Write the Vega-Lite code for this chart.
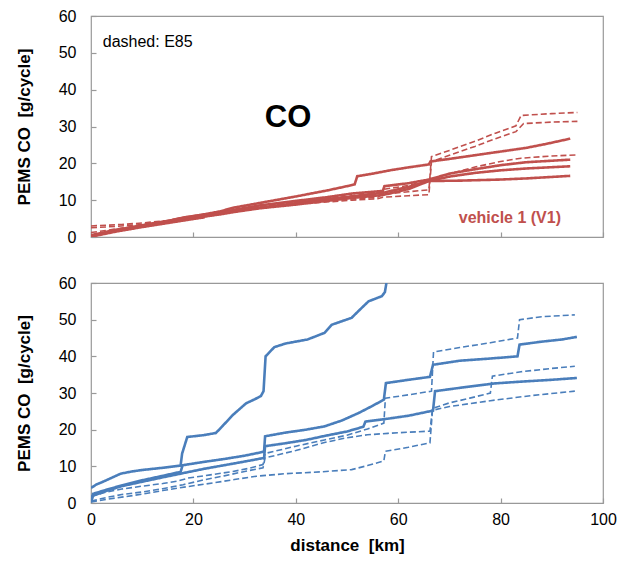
{
  "$schema": "https://vega.github.io/schema/vega-lite/v6.json",
  "background": "white",
  "padding": {"left": 14, "top": 7, "right": 5, "bottom": 5},
  "spacing": 28,
  "config": {
    "font": "Liberation Sans",
    "view": {"stroke": "#999999", "strokeWidth": 1.2},
    "axis": {
      "domain": false,
      "grid": false,
      "tickColor": "#999999",
      "tickSize": -5,
      "tickWidth": 1.2,
      "labelOverlap": false,
      "labelFlush": false,
      "labelFontSize": 16,
      "labelColor": "#000000",
      "titleColor": "#000000",
      "titleFontWeight": "bold"
    }
  },
  "datasets": {
    "lines": [
      {"panel": "top", "run": "t1", "fuel": "gasoline", "km": 0, "co": 0.3},
      {"panel": "top", "run": "t1", "fuel": "gasoline", "km": 5, "co": 1.8},
      {"panel": "top", "run": "t1", "fuel": "gasoline", "km": 10, "co": 3.2},
      {"panel": "top", "run": "t1", "fuel": "gasoline", "km": 15, "co": 4.4},
      {"panel": "top", "run": "t1", "fuel": "gasoline", "km": 20, "co": 5.6},
      {"panel": "top", "run": "t1", "fuel": "gasoline", "km": 25, "co": 6.9},
      {"panel": "top", "run": "t1", "fuel": "gasoline", "km": 28, "co": 8},
      {"panel": "top", "run": "t1", "fuel": "gasoline", "km": 33.6, "co": 9.4},
      {"panel": "top", "run": "t1", "fuel": "gasoline", "km": 40, "co": 11},
      {"panel": "top", "run": "t1", "fuel": "gasoline", "km": 46, "co": 12.6},
      {"panel": "top", "run": "t1", "fuel": "gasoline", "km": 50, "co": 13.8},
      {"panel": "top", "run": "t1", "fuel": "gasoline", "km": 51.5, "co": 14.3},
      {"panel": "top", "run": "t1", "fuel": "gasoline", "km": 52, "co": 16.5},
      {"panel": "top", "run": "t1", "fuel": "gasoline", "km": 55, "co": 17.2},
      {"panel": "top", "run": "t1", "fuel": "gasoline", "km": 58.8, "co": 18.2},
      {"panel": "top", "run": "t1", "fuel": "gasoline", "km": 62, "co": 18.9},
      {"panel": "top", "run": "t1", "fuel": "gasoline", "km": 66, "co": 19.7},
      {"panel": "top", "run": "t1", "fuel": "gasoline", "km": 66.3, "co": 20.5},
      {"panel": "top", "run": "t1", "fuel": "gasoline", "km": 70, "co": 21.2},
      {"panel": "top", "run": "t1", "fuel": "gasoline", "km": 75, "co": 22.2},
      {"panel": "top", "run": "t1", "fuel": "gasoline", "km": 80, "co": 23.2},
      {"panel": "top", "run": "t1", "fuel": "gasoline", "km": 85, "co": 24.2},
      {"panel": "top", "run": "t1", "fuel": "gasoline", "km": 89, "co": 25.3},
      {"panel": "top", "run": "t1", "fuel": "gasoline", "km": 93.6, "co": 26.7},

      {"panel": "top", "run": "t2", "fuel": "gasoline", "km": 0, "co": 0.5},
      {"panel": "top", "run": "t2", "fuel": "gasoline", "km": 5, "co": 2},
      {"panel": "top", "run": "t2", "fuel": "gasoline", "km": 10, "co": 3.1},
      {"panel": "top", "run": "t2", "fuel": "gasoline", "km": 15, "co": 4.3},
      {"panel": "top", "run": "t2", "fuel": "gasoline", "km": 18, "co": 5.3},
      {"panel": "top", "run": "t2", "fuel": "gasoline", "km": 20, "co": 5.7},
      {"panel": "top", "run": "t2", "fuel": "gasoline", "km": 25, "co": 6.6},
      {"panel": "top", "run": "t2", "fuel": "gasoline", "km": 28, "co": 7.4},
      {"panel": "top", "run": "t2", "fuel": "gasoline", "km": 33, "co": 8.6},
      {"panel": "top", "run": "t2", "fuel": "gasoline", "km": 40, "co": 9.8},
      {"panel": "top", "run": "t2", "fuel": "gasoline", "km": 46, "co": 10.8},
      {"panel": "top", "run": "t2", "fuel": "gasoline", "km": 51, "co": 11.8},
      {"panel": "top", "run": "t2", "fuel": "gasoline", "km": 57, "co": 12.5},
      {"panel": "top", "run": "t2", "fuel": "gasoline", "km": 57.3, "co": 13.8},
      {"panel": "top", "run": "t2", "fuel": "gasoline", "km": 62, "co": 14.6},
      {"panel": "top", "run": "t2", "fuel": "gasoline", "km": 66, "co": 15.6},
      {"panel": "top", "run": "t2", "fuel": "gasoline", "km": 70, "co": 17.2},
      {"panel": "top", "run": "t2", "fuel": "gasoline", "km": 75, "co": 18.4},
      {"panel": "top", "run": "t2", "fuel": "gasoline", "km": 80, "co": 19.5},
      {"panel": "top", "run": "t2", "fuel": "gasoline", "km": 85, "co": 20.3},
      {"panel": "top", "run": "t2", "fuel": "gasoline", "km": 93.6, "co": 21},

      {"panel": "top", "run": "t3", "fuel": "gasoline", "km": 0, "co": 0.2},
      {"panel": "top", "run": "t3", "fuel": "gasoline", "km": 5, "co": 1.7},
      {"panel": "top", "run": "t3", "fuel": "gasoline", "km": 10, "co": 2.9},
      {"panel": "top", "run": "t3", "fuel": "gasoline", "km": 15, "co": 4},
      {"panel": "top", "run": "t3", "fuel": "gasoline", "km": 20, "co": 5.1},
      {"panel": "top", "run": "t3", "fuel": "gasoline", "km": 25, "co": 6.1},
      {"panel": "top", "run": "t3", "fuel": "gasoline", "km": 28, "co": 6.8},
      {"panel": "top", "run": "t3", "fuel": "gasoline", "km": 33, "co": 7.8},
      {"panel": "top", "run": "t3", "fuel": "gasoline", "km": 40, "co": 8.8},
      {"panel": "top", "run": "t3", "fuel": "gasoline", "km": 46, "co": 9.8},
      {"panel": "top", "run": "t3", "fuel": "gasoline", "km": 51, "co": 10.6},
      {"panel": "top", "run": "t3", "fuel": "gasoline", "km": 57, "co": 11.4},
      {"panel": "top", "run": "t3", "fuel": "gasoline", "km": 62, "co": 13},
      {"panel": "top", "run": "t3", "fuel": "gasoline", "km": 66, "co": 15.2},
      {"panel": "top", "run": "t3", "fuel": "gasoline", "km": 70, "co": 16.4},
      {"panel": "top", "run": "t3", "fuel": "gasoline", "km": 75, "co": 17.4},
      {"panel": "top", "run": "t3", "fuel": "gasoline", "km": 80, "co": 18.1},
      {"panel": "top", "run": "t3", "fuel": "gasoline", "km": 85, "co": 18.6},
      {"panel": "top", "run": "t3", "fuel": "gasoline", "km": 93.6, "co": 19.2},

      {"panel": "top", "run": "t4", "fuel": "gasoline", "km": 0, "co": 0.1},
      {"panel": "top", "run": "t4", "fuel": "gasoline", "km": 5, "co": 1.5},
      {"panel": "top", "run": "t4", "fuel": "gasoline", "km": 10, "co": 2.7},
      {"panel": "top", "run": "t4", "fuel": "gasoline", "km": 15, "co": 3.8},
      {"panel": "top", "run": "t4", "fuel": "gasoline", "km": 20, "co": 4.9},
      {"panel": "top", "run": "t4", "fuel": "gasoline", "km": 22, "co": 5.3},
      {"panel": "top", "run": "t4", "fuel": "gasoline", "km": 22.3, "co": 6},
      {"panel": "top", "run": "t4", "fuel": "gasoline", "km": 28, "co": 7},
      {"panel": "top", "run": "t4", "fuel": "gasoline", "km": 33, "co": 8},
      {"panel": "top", "run": "t4", "fuel": "gasoline", "km": 40, "co": 9.2},
      {"panel": "top", "run": "t4", "fuel": "gasoline", "km": 46, "co": 10.2},
      {"panel": "top", "run": "t4", "fuel": "gasoline", "km": 51, "co": 11},
      {"panel": "top", "run": "t4", "fuel": "gasoline", "km": 57, "co": 12},
      {"panel": "top", "run": "t4", "fuel": "gasoline", "km": 62, "co": 13.6},
      {"panel": "top", "run": "t4", "fuel": "gasoline", "km": 66, "co": 15.2},
      {"panel": "top", "run": "t4", "fuel": "gasoline", "km": 72, "co": 15.3},
      {"panel": "top", "run": "t4", "fuel": "gasoline", "km": 80, "co": 15.6},
      {"panel": "top", "run": "t4", "fuel": "gasoline", "km": 85, "co": 15.9},
      {"panel": "top", "run": "t4", "fuel": "gasoline", "km": 93.6, "co": 16.6},

      {"panel": "top", "run": "t5", "fuel": "E85", "km": 0, "co": 3},
      {"panel": "top", "run": "t5", "fuel": "E85", "km": 3, "co": 3.2},
      {"panel": "top", "run": "t5", "fuel": "E85", "km": 6, "co": 3.4},
      {"panel": "top", "run": "t5", "fuel": "E85", "km": 10, "co": 3.8},
      {"panel": "top", "run": "t5", "fuel": "E85", "km": 15, "co": 4.5},
      {"panel": "top", "run": "t5", "fuel": "E85", "km": 20, "co": 5.5},
      {"panel": "top", "run": "t5", "fuel": "E85", "km": 25, "co": 6.6},
      {"panel": "top", "run": "t5", "fuel": "E85", "km": 30, "co": 7.8},
      {"panel": "top", "run": "t5", "fuel": "E85", "km": 35, "co": 8.6},
      {"panel": "top", "run": "t5", "fuel": "E85", "km": 40, "co": 9.2},
      {"panel": "top", "run": "t5", "fuel": "E85", "km": 46, "co": 9.8},
      {"panel": "top", "run": "t5", "fuel": "E85", "km": 51, "co": 10.3},
      {"panel": "top", "run": "t5", "fuel": "E85", "km": 56, "co": 10.8},
      {"panel": "top", "run": "t5", "fuel": "E85", "km": 57, "co": 11.6},
      {"panel": "top", "run": "t5", "fuel": "E85", "km": 62, "co": 12.3},
      {"panel": "top", "run": "t5", "fuel": "E85", "km": 66, "co": 12.8},
      {"panel": "top", "run": "t5", "fuel": "E85", "km": 66.5, "co": 21.8},
      {"panel": "top", "run": "t5", "fuel": "E85", "km": 70, "co": 23.5},
      {"panel": "top", "run": "t5", "fuel": "E85", "km": 75, "co": 26},
      {"panel": "top", "run": "t5", "fuel": "E85", "km": 79, "co": 28.2},
      {"panel": "top", "run": "t5", "fuel": "E85", "km": 83, "co": 30.2},
      {"panel": "top", "run": "t5", "fuel": "E85", "km": 84, "co": 33},
      {"panel": "top", "run": "t5", "fuel": "E85", "km": 90, "co": 33.5},
      {"panel": "top", "run": "t5", "fuel": "E85", "km": 95, "co": 33.8},

      {"panel": "top", "run": "t6", "fuel": "E85", "km": 0, "co": 2.5},
      {"panel": "top", "run": "t6", "fuel": "E85", "km": 5, "co": 2.9},
      {"panel": "top", "run": "t6", "fuel": "E85", "km": 10, "co": 3.4},
      {"panel": "top", "run": "t6", "fuel": "E85", "km": 15, "co": 4.3},
      {"panel": "top", "run": "t6", "fuel": "E85", "km": 20, "co": 5.2},
      {"panel": "top", "run": "t6", "fuel": "E85", "km": 25, "co": 6.3},
      {"panel": "top", "run": "t6", "fuel": "E85", "km": 30, "co": 7.4},
      {"panel": "top", "run": "t6", "fuel": "E85", "km": 35, "co": 8.3},
      {"panel": "top", "run": "t6", "fuel": "E85", "km": 40, "co": 8.9},
      {"panel": "top", "run": "t6", "fuel": "E85", "km": 46, "co": 9.5},
      {"panel": "top", "run": "t6", "fuel": "E85", "km": 51, "co": 10},
      {"panel": "top", "run": "t6", "fuel": "E85", "km": 56, "co": 10.4},
      {"panel": "top", "run": "t6", "fuel": "E85", "km": 57, "co": 10.8},
      {"panel": "top", "run": "t6", "fuel": "E85", "km": 62, "co": 11.2},
      {"panel": "top", "run": "t6", "fuel": "E85", "km": 66, "co": 11.5},
      {"panel": "top", "run": "t6", "fuel": "E85", "km": 66.5, "co": 20.5},
      {"panel": "top", "run": "t6", "fuel": "E85", "km": 70, "co": 22.2},
      {"panel": "top", "run": "t6", "fuel": "E85", "km": 75, "co": 24.6},
      {"panel": "top", "run": "t6", "fuel": "E85", "km": 79, "co": 26.7},
      {"panel": "top", "run": "t6", "fuel": "E85", "km": 83, "co": 28.6},
      {"panel": "top", "run": "t6", "fuel": "E85", "km": 84.5, "co": 30.8},
      {"panel": "top", "run": "t6", "fuel": "E85", "km": 90, "co": 31.2},
      {"panel": "top", "run": "t6", "fuel": "E85", "km": 95, "co": 31.4},

      {"panel": "top", "run": "t7", "fuel": "E85", "km": 0, "co": 1.2},
      {"panel": "top", "run": "t7", "fuel": "E85", "km": 5, "co": 2.2},
      {"panel": "top", "run": "t7", "fuel": "E85", "km": 10, "co": 3.2},
      {"panel": "top", "run": "t7", "fuel": "E85", "km": 15, "co": 4.3},
      {"panel": "top", "run": "t7", "fuel": "E85", "km": 20, "co": 5.4},
      {"panel": "top", "run": "t7", "fuel": "E85", "km": 25, "co": 6.5},
      {"panel": "top", "run": "t7", "fuel": "E85", "km": 30, "co": 7.6},
      {"panel": "top", "run": "t7", "fuel": "E85", "km": 35, "co": 8.6},
      {"panel": "top", "run": "t7", "fuel": "E85", "km": 40, "co": 9.4},
      {"panel": "top", "run": "t7", "fuel": "E85", "km": 46, "co": 10.4},
      {"panel": "top", "run": "t7", "fuel": "E85", "km": 51, "co": 11.2},
      {"panel": "top", "run": "t7", "fuel": "E85", "km": 56, "co": 12},
      {"panel": "top", "run": "t7", "fuel": "E85", "km": 57, "co": 12.9},
      {"panel": "top", "run": "t7", "fuel": "E85", "km": 62, "co": 14},
      {"panel": "top", "run": "t7", "fuel": "E85", "km": 66, "co": 15.4},
      {"panel": "top", "run": "t7", "fuel": "E85", "km": 70, "co": 17.2},
      {"panel": "top", "run": "t7", "fuel": "E85", "km": 75, "co": 19},
      {"panel": "top", "run": "t7", "fuel": "E85", "km": 80, "co": 20.5},
      {"panel": "top", "run": "t7", "fuel": "E85", "km": 84, "co": 21.4},
      {"panel": "top", "run": "t7", "fuel": "E85", "km": 90, "co": 22},
      {"panel": "top", "run": "t7", "fuel": "E85", "km": 95, "co": 22.3},

      {"panel": "bottom", "run": "b1", "fuel": "gasoline", "km": 0, "co": 4.1},
      {"panel": "bottom", "run": "b1", "fuel": "gasoline", "km": 1, "co": 5},
      {"panel": "bottom", "run": "b1", "fuel": "gasoline", "km": 2.5, "co": 5.9},
      {"panel": "bottom", "run": "b1", "fuel": "gasoline", "km": 5.8, "co": 8},
      {"panel": "bottom", "run": "b1", "fuel": "gasoline", "km": 8, "co": 8.6},
      {"panel": "bottom", "run": "b1", "fuel": "gasoline", "km": 10, "co": 9},
      {"panel": "bottom", "run": "b1", "fuel": "gasoline", "km": 14, "co": 9.6},
      {"panel": "bottom", "run": "b1", "fuel": "gasoline", "km": 17.5, "co": 10.2},
      {"panel": "bottom", "run": "b1", "fuel": "gasoline", "km": 17.8, "co": 13.5},
      {"panel": "bottom", "run": "b1", "fuel": "gasoline", "km": 18.8, "co": 18},
      {"panel": "bottom", "run": "b1", "fuel": "gasoline", "km": 22, "co": 18.5},
      {"panel": "bottom", "run": "b1", "fuel": "gasoline", "km": 24.4, "co": 19.1},
      {"panel": "bottom", "run": "b1", "fuel": "gasoline", "km": 25.7, "co": 21},
      {"panel": "bottom", "run": "b1", "fuel": "gasoline", "km": 27.7, "co": 24},
      {"panel": "bottom", "run": "b1", "fuel": "gasoline", "km": 30.3, "co": 27.2},
      {"panel": "bottom", "run": "b1", "fuel": "gasoline", "km": 32, "co": 28.3},
      {"panel": "bottom", "run": "b1", "fuel": "gasoline", "km": 33.2, "co": 29.2},
      {"panel": "bottom", "run": "b1", "fuel": "gasoline", "km": 33.7, "co": 30.5},
      {"panel": "bottom", "run": "b1", "fuel": "gasoline", "km": 34.1, "co": 40},
      {"panel": "bottom", "run": "b1", "fuel": "gasoline", "km": 35.8, "co": 42.5},
      {"panel": "bottom", "run": "b1", "fuel": "gasoline", "km": 38, "co": 43.5},
      {"panel": "bottom", "run": "b1", "fuel": "gasoline", "km": 42.3, "co": 44.6},
      {"panel": "bottom", "run": "b1", "fuel": "gasoline", "km": 45.6, "co": 46.4},
      {"panel": "bottom", "run": "b1", "fuel": "gasoline", "km": 47, "co": 48.6},
      {"panel": "bottom", "run": "b1", "fuel": "gasoline", "km": 50.9, "co": 50.5},
      {"panel": "bottom", "run": "b1", "fuel": "gasoline", "km": 52.2, "co": 52.3},
      {"panel": "bottom", "run": "b1", "fuel": "gasoline", "km": 54.2, "co": 55},
      {"panel": "bottom", "run": "b1", "fuel": "gasoline", "km": 56.8, "co": 56.4},
      {"panel": "bottom", "run": "b1", "fuel": "gasoline", "km": 57.4, "co": 57.5},
      {"panel": "bottom", "run": "b1", "fuel": "gasoline", "km": 57.7, "co": 60},

      {"panel": "bottom", "run": "b2", "fuel": "gasoline", "km": 0, "co": 0.3},
      {"panel": "bottom", "run": "b2", "fuel": "gasoline", "km": 0.4, "co": 2.5},
      {"panel": "bottom", "run": "b2", "fuel": "gasoline", "km": 3, "co": 3.6},
      {"panel": "bottom", "run": "b2", "fuel": "gasoline", "km": 6, "co": 4.8},
      {"panel": "bottom", "run": "b2", "fuel": "gasoline", "km": 10, "co": 6.2},
      {"panel": "bottom", "run": "b2", "fuel": "gasoline", "km": 14, "co": 7.4},
      {"panel": "bottom", "run": "b2", "fuel": "gasoline", "km": 17.5, "co": 8.5},
      {"panel": "bottom", "run": "b2", "fuel": "gasoline", "km": 17.9, "co": 10.3},
      {"panel": "bottom", "run": "b2", "fuel": "gasoline", "km": 22, "co": 11.2},
      {"panel": "bottom", "run": "b2", "fuel": "gasoline", "km": 26, "co": 12},
      {"panel": "bottom", "run": "b2", "fuel": "gasoline", "km": 30, "co": 12.9},
      {"panel": "bottom", "run": "b2", "fuel": "gasoline", "km": 33.8, "co": 14},
      {"panel": "bottom", "run": "b2", "fuel": "gasoline", "km": 34, "co": 18.2},
      {"panel": "bottom", "run": "b2", "fuel": "gasoline", "km": 38, "co": 19.2},
      {"panel": "bottom", "run": "b2", "fuel": "gasoline", "km": 42, "co": 20},
      {"panel": "bottom", "run": "b2", "fuel": "gasoline", "km": 45.6, "co": 20.9},
      {"panel": "bottom", "run": "b2", "fuel": "gasoline", "km": 49, "co": 22.5},
      {"panel": "bottom", "run": "b2", "fuel": "gasoline", "km": 52.2, "co": 24.5},
      {"panel": "bottom", "run": "b2", "fuel": "gasoline", "km": 55, "co": 26.5},
      {"panel": "bottom", "run": "b2", "fuel": "gasoline", "km": 57.2, "co": 28.2},
      {"panel": "bottom", "run": "b2", "fuel": "gasoline", "km": 57.6, "co": 32.7},
      {"panel": "bottom", "run": "b2", "fuel": "gasoline", "km": 62, "co": 33.6},
      {"panel": "bottom", "run": "b2", "fuel": "gasoline", "km": 66.2, "co": 34.4},
      {"panel": "bottom", "run": "b2", "fuel": "gasoline", "km": 66.8, "co": 37.7},
      {"panel": "bottom", "run": "b2", "fuel": "gasoline", "km": 72, "co": 38.8},
      {"panel": "bottom", "run": "b2", "fuel": "gasoline", "km": 78, "co": 39.4},
      {"panel": "bottom", "run": "b2", "fuel": "gasoline", "km": 83.3, "co": 40},
      {"panel": "bottom", "run": "b2", "fuel": "gasoline", "km": 83.7, "co": 43.2},
      {"panel": "bottom", "run": "b2", "fuel": "gasoline", "km": 88, "co": 44},
      {"panel": "bottom", "run": "b2", "fuel": "gasoline", "km": 92, "co": 44.6},
      {"panel": "bottom", "run": "b2", "fuel": "gasoline", "km": 94.9, "co": 45.3},

      {"panel": "bottom", "run": "b3", "fuel": "gasoline", "km": 0, "co": 0.3},
      {"panel": "bottom", "run": "b3", "fuel": "gasoline", "km": 0.4, "co": 2},
      {"panel": "bottom", "run": "b3", "fuel": "gasoline", "km": 3, "co": 3.3},
      {"panel": "bottom", "run": "b3", "fuel": "gasoline", "km": 6, "co": 4.6},
      {"panel": "bottom", "run": "b3", "fuel": "gasoline", "km": 10, "co": 5.8},
      {"panel": "bottom", "run": "b3", "fuel": "gasoline", "km": 14, "co": 7},
      {"panel": "bottom", "run": "b3", "fuel": "gasoline", "km": 17.5, "co": 8},
      {"panel": "bottom", "run": "b3", "fuel": "gasoline", "km": 22, "co": 9.3},
      {"panel": "bottom", "run": "b3", "fuel": "gasoline", "km": 26, "co": 10.3},
      {"panel": "bottom", "run": "b3", "fuel": "gasoline", "km": 30, "co": 11.3},
      {"panel": "bottom", "run": "b3", "fuel": "gasoline", "km": 33.8, "co": 12.3},
      {"panel": "bottom", "run": "b3", "fuel": "gasoline", "km": 34, "co": 15.5},
      {"panel": "bottom", "run": "b3", "fuel": "gasoline", "km": 38, "co": 16.3},
      {"panel": "bottom", "run": "b3", "fuel": "gasoline", "km": 42, "co": 17.2},
      {"panel": "bottom", "run": "b3", "fuel": "gasoline", "km": 46, "co": 18.4},
      {"panel": "bottom", "run": "b3", "fuel": "gasoline", "km": 50, "co": 19.5},
      {"panel": "bottom", "run": "b3", "fuel": "gasoline", "km": 53.2, "co": 20.8},
      {"panel": "bottom", "run": "b3", "fuel": "gasoline", "km": 53.6, "co": 22.2},
      {"panel": "bottom", "run": "b3", "fuel": "gasoline", "km": 58, "co": 23},
      {"panel": "bottom", "run": "b3", "fuel": "gasoline", "km": 62, "co": 23.8},
      {"panel": "bottom", "run": "b3", "fuel": "gasoline", "km": 66.8, "co": 25.2},
      {"panel": "bottom", "run": "b3", "fuel": "gasoline", "km": 67.2, "co": 30.5},
      {"panel": "bottom", "run": "b3", "fuel": "gasoline", "km": 72, "co": 31.4},
      {"panel": "bottom", "run": "b3", "fuel": "gasoline", "km": 78.7, "co": 32.6},
      {"panel": "bottom", "run": "b3", "fuel": "gasoline", "km": 84, "co": 33.1},
      {"panel": "bottom", "run": "b3", "fuel": "gasoline", "km": 90, "co": 33.6},
      {"panel": "bottom", "run": "b3", "fuel": "gasoline", "km": 94.9, "co": 34.1},

      {"panel": "bottom", "run": "b4", "fuel": "E85", "km": 0, "co": 1.8},
      {"panel": "bottom", "run": "b4", "fuel": "E85", "km": 3, "co": 3},
      {"panel": "bottom", "run": "b4", "fuel": "E85", "km": 6, "co": 3.8},
      {"panel": "bottom", "run": "b4", "fuel": "E85", "km": 10, "co": 4.6},
      {"panel": "bottom", "run": "b4", "fuel": "E85", "km": 14, "co": 5.3},
      {"panel": "bottom", "run": "b4", "fuel": "E85", "km": 17, "co": 6},
      {"panel": "bottom", "run": "b4", "fuel": "E85", "km": 19, "co": 6.8},
      {"panel": "bottom", "run": "b4", "fuel": "E85", "km": 23, "co": 7.6},
      {"panel": "bottom", "run": "b4", "fuel": "E85", "km": 27.7, "co": 8.6},
      {"panel": "bottom", "run": "b4", "fuel": "E85", "km": 31, "co": 9.5},
      {"panel": "bottom", "run": "b4", "fuel": "E85", "km": 33.6, "co": 10.5},
      {"panel": "bottom", "run": "b4", "fuel": "E85", "km": 34, "co": 13.5},
      {"panel": "bottom", "run": "b4", "fuel": "E85", "km": 40, "co": 15.5},
      {"panel": "bottom", "run": "b4", "fuel": "E85", "km": 45.6, "co": 17.2},
      {"panel": "bottom", "run": "b4", "fuel": "E85", "km": 50, "co": 18.5},
      {"panel": "bottom", "run": "b4", "fuel": "E85", "km": 54, "co": 20.2},
      {"panel": "bottom", "run": "b4", "fuel": "E85", "km": 57.2, "co": 21.8},
      {"panel": "bottom", "run": "b4", "fuel": "E85", "km": 57.5, "co": 28.6},
      {"panel": "bottom", "run": "b4", "fuel": "E85", "km": 62, "co": 29.5},
      {"panel": "bottom", "run": "b4", "fuel": "E85", "km": 66.5, "co": 30.5},
      {"panel": "bottom", "run": "b4", "fuel": "E85", "km": 66.9, "co": 41.2},
      {"panel": "bottom", "run": "b4", "fuel": "E85", "km": 72, "co": 42.4},
      {"panel": "bottom", "run": "b4", "fuel": "E85", "km": 78, "co": 43.7},
      {"panel": "bottom", "run": "b4", "fuel": "E85", "km": 83.3, "co": 45},
      {"panel": "bottom", "run": "b4", "fuel": "E85", "km": 83.7, "co": 50},
      {"panel": "bottom", "run": "b4", "fuel": "E85", "km": 88, "co": 50.8},
      {"panel": "bottom", "run": "b4", "fuel": "E85", "km": 94.5, "co": 51.3},

      {"panel": "bottom", "run": "b5", "fuel": "E85", "km": 0, "co": 0.5},
      {"panel": "bottom", "run": "b5", "fuel": "E85", "km": 3, "co": 1.5},
      {"panel": "bottom", "run": "b5", "fuel": "E85", "km": 6, "co": 2.3},
      {"panel": "bottom", "run": "b5", "fuel": "E85", "km": 10, "co": 3},
      {"panel": "bottom", "run": "b5", "fuel": "E85", "km": 14, "co": 3.9},
      {"panel": "bottom", "run": "b5", "fuel": "E85", "km": 18, "co": 5},
      {"panel": "bottom", "run": "b5", "fuel": "E85", "km": 22, "co": 6.3},
      {"panel": "bottom", "run": "b5", "fuel": "E85", "km": 26, "co": 7.4},
      {"panel": "bottom", "run": "b5", "fuel": "E85", "km": 30, "co": 8.6},
      {"panel": "bottom", "run": "b5", "fuel": "E85", "km": 33.6, "co": 9.6},
      {"panel": "bottom", "run": "b5", "fuel": "E85", "km": 34, "co": 12.3},
      {"panel": "bottom", "run": "b5", "fuel": "E85", "km": 40, "co": 14.3},
      {"panel": "bottom", "run": "b5", "fuel": "E85", "km": 45.6, "co": 16.5},
      {"panel": "bottom", "run": "b5", "fuel": "E85", "km": 50, "co": 17.8},
      {"panel": "bottom", "run": "b5", "fuel": "E85", "km": 54, "co": 18.6},
      {"panel": "bottom", "run": "b5", "fuel": "E85", "km": 58, "co": 19},
      {"panel": "bottom", "run": "b5", "fuel": "E85", "km": 62, "co": 19.3},
      {"panel": "bottom", "run": "b5", "fuel": "E85", "km": 66.2, "co": 19.6},
      {"panel": "bottom", "run": "b5", "fuel": "E85", "km": 66.7, "co": 25.8},
      {"panel": "bottom", "run": "b5", "fuel": "E85", "km": 70, "co": 27.3},
      {"panel": "bottom", "run": "b5", "fuel": "E85", "km": 74, "co": 28.6},
      {"panel": "bottom", "run": "b5", "fuel": "E85", "km": 78, "co": 30},
      {"panel": "bottom", "run": "b5", "fuel": "E85", "km": 78.4, "co": 34.6},
      {"panel": "bottom", "run": "b5", "fuel": "E85", "km": 84, "co": 35.8},
      {"panel": "bottom", "run": "b5", "fuel": "E85", "km": 90, "co": 36.7},
      {"panel": "bottom", "run": "b5", "fuel": "E85", "km": 94.5, "co": 37.3},

      {"panel": "bottom", "run": "b6", "fuel": "E85", "km": 0, "co": 0.3},
      {"panel": "bottom", "run": "b6", "fuel": "E85", "km": 3, "co": 1},
      {"panel": "bottom", "run": "b6", "fuel": "E85", "km": 6, "co": 1.6},
      {"panel": "bottom", "run": "b6", "fuel": "E85", "km": 10, "co": 2.4},
      {"panel": "bottom", "run": "b6", "fuel": "E85", "km": 14, "co": 3.4},
      {"panel": "bottom", "run": "b6", "fuel": "E85", "km": 19, "co": 4.5},
      {"panel": "bottom", "run": "b6", "fuel": "E85", "km": 24, "co": 5.5},
      {"panel": "bottom", "run": "b6", "fuel": "E85", "km": 28, "co": 6.4},
      {"panel": "bottom", "run": "b6", "fuel": "E85", "km": 32.3, "co": 7.3},
      {"panel": "bottom", "run": "b6", "fuel": "E85", "km": 38, "co": 8},
      {"panel": "bottom", "run": "b6", "fuel": "E85", "km": 45, "co": 8.5},
      {"panel": "bottom", "run": "b6", "fuel": "E85", "km": 50.9, "co": 9.1},
      {"panel": "bottom", "run": "b6", "fuel": "E85", "km": 54, "co": 10.2},
      {"panel": "bottom", "run": "b6", "fuel": "E85", "km": 57.2, "co": 11.5},
      {"panel": "bottom", "run": "b6", "fuel": "E85", "km": 57.5, "co": 14.1},
      {"panel": "bottom", "run": "b6", "fuel": "E85", "km": 62, "co": 15.2},
      {"panel": "bottom", "run": "b6", "fuel": "E85", "km": 66.2, "co": 16.4},
      {"panel": "bottom", "run": "b6", "fuel": "E85", "km": 66.7, "co": 25.3},
      {"panel": "bottom", "run": "b6", "fuel": "E85", "km": 70, "co": 26.3},
      {"panel": "bottom", "run": "b6", "fuel": "E85", "km": 78, "co": 27.9},
      {"panel": "bottom", "run": "b6", "fuel": "E85", "km": 86, "co": 29.3},
      {"panel": "bottom", "run": "b6", "fuel": "E85", "km": 94.5, "co": 30.5}
    ],
    "notes": [
      {"note": "dashed: E85", "km": 2.3, "co": 52.9},
      {"note": "CO", "km": 38.5, "co": 32.3},
      {"note": "vehicle 1 (V1)", "km": 91.8, "co": 5.2}
    ]
  },
  "vconcat": [
    {
      "width": 512,
      "height": 221,
      "encoding": {
        "x": {
          "field": "km", "type": "quantitative",
          "scale": {"domain": [0, 100], "nice": false},
          "axis": {"values": [0, 20, 40, 60, 80, 100], "labels": false, "title": null}
        },
        "y": {
          "field": "co", "type": "quantitative",
          "scale": {"domain": [0, 60], "nice": false},
          "axis": {
            "values": [0, 10, 20, 30, 40, 50, 60],
            "title": "PEMS CO \u00a0[g/cycle]",
            "titleFontSize": 17,
            "labelPadding": 20,
            "titlePadding": 25
          }
        }
      },
      "layer": [
        {
          "data": {"name": "lines"},
          "transform": [{"filter": "datum.panel == 'top'"}],
          "mark": {"type": "line", "color": "#C0504D", "clip": true},
          "encoding": {
            "detail": {"field": "run", "type": "nominal"},
            "strokeDash": {
              "field": "fuel", "type": "nominal",
              "scale": {"domain": ["gasoline", "E85"], "range": [[1, 0], [6, 3]]},
              "legend": null
            },
            "strokeWidth": {
              "field": "fuel", "type": "nominal",
              "scale": {"domain": ["gasoline", "E85"], "range": [2.6, 1.6]},
              "legend": null
            }
          }
        },
        {
          "data": {"name": "notes"},
          "transform": [{"filter": "datum.note == 'dashed: E85'"}],
          "mark": {"type": "text", "align": "left", "baseline": "middle", "fontSize": 16, "color": "#000000"},
          "encoding": {"text": {"field": "note", "type": "nominal"}}
        },
        {
          "data": {"name": "notes"},
          "transform": [{"filter": "datum.note == 'CO'"}],
          "mark": {"type": "text", "align": "center", "baseline": "middle", "fontSize": 31, "fontWeight": "bold", "color": "#000000"},
          "encoding": {"text": {"field": "note", "type": "nominal"}}
        },
        {
          "data": {"name": "notes"},
          "transform": [{"filter": "datum.note == 'vehicle 1 (V1)'"}],
          "mark": {"type": "text", "align": "right", "baseline": "middle", "fontSize": 16, "fontWeight": "bold", "color": "#C0504D"},
          "encoding": {"text": {"field": "note", "type": "nominal"}}
        }
      ]
    },
    {
      "width": 512,
      "height": 220,
      "data": {"name": "lines"},
      "transform": [{"filter": "datum.panel == 'bottom'"}],
      "mark": {"type": "line", "color": "#4A7EBB", "clip": true},
      "encoding": {
        "x": {
          "field": "km", "type": "quantitative",
          "scale": {"domain": [0, 100], "nice": false},
          "axis": {
            "values": [0, 20, 40, 60, 80, 100],
            "title": "distance \u00a0[km]",
            "titleFontSize": 17,
            "labelPadding": 13,
            "titlePadding": 10
          }
        },
        "y": {
          "field": "co", "type": "quantitative",
          "scale": {"domain": [0, 60], "nice": false},
          "axis": {
            "values": [0, 10, 20, 30, 40, 50, 60],
            "title": "PEMS CO \u00a0[g/cycle]",
            "titleFontSize": 17,
            "labelPadding": 20,
            "titlePadding": 25
          }
        },
        "detail": {"field": "run", "type": "nominal"},
        "strokeDash": {
          "field": "fuel", "type": "nominal",
          "scale": {"domain": ["gasoline", "E85"], "range": [[1, 0], [6, 3]]},
          "legend": null
        },
        "strokeWidth": {
          "field": "fuel", "type": "nominal",
          "scale": {"domain": ["gasoline", "E85"], "range": [2.6, 1.6]},
          "legend": null
        }
      }
    }
  ]
}
